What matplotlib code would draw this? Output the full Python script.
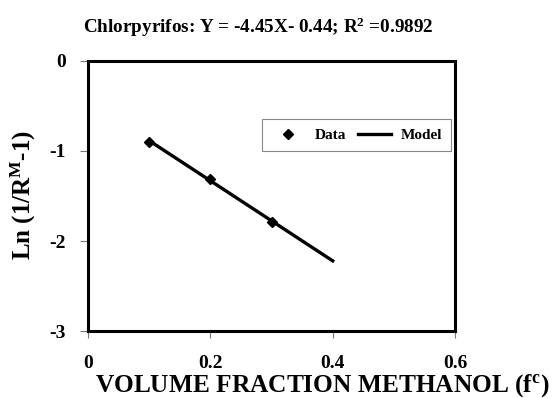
import matplotlib
matplotlib.use("Agg")
import matplotlib.pyplot as plt

# data
frac = [0.1, 0.2, 0.3]
ln_r = [-0.90, -1.31, -1.79]
model_x = [0.1, 0.4]
slope, intercept = -4.45, -0.44
xticks = [0, 0.2, 0.4, 0.6]
yticks = [0, -1, -2, -3]

plt.rcParams['font.family'] = 'Liberation Serif'
plt.rcParams['font.weight'] = 'bold'
plt.rcParams['mathtext.fontset'] = 'custom'
plt.rcParams['mathtext.rm'] = 'Liberation Serif:bold'
plt.rcParams['mathtext.it'] = 'Liberation Serif:bold'
plt.rcParams['mathtext.bf'] = 'Liberation Serif:bold'
plt.rcParams['mathtext.default'] = 'rm'


def draw_graph():
    fig = plt.figure(figsize=(5.53, 3.98), dpi=100)
    ax = fig.add_axes([0.159, 0.168, 0.664, 0.679])

    model_y = [slope * x + intercept for x in model_x]
    ax.plot(frac, ln_r, linestyle='none', marker='D', markersize=5.5,
            color='black', label='Data', zorder=3)
    ax.plot(model_x, model_y, color='black', linewidth=2.4, label='Model')

    ax.set_xlim(0, 0.6)
    ax.set_ylim(-3, 0)
    ax.set_xticks(xticks)
    ax.set_xticklabels(['0', '0.2', '0.4', '0.6'])
    ax.set_yticks(yticks)
    ax.set_yticklabels(['0', '-1', '-2', '-3'])
    ax.tick_params(axis='x', direction='out', length=5, width=0.8,
                   pad=12, labelsize=14, color='#777777')
    ax.tick_params(axis='y', direction='out', length=6, width=0.8,
                   pad=10, labelsize=14, color='#777777')
    for s in ax.spines.values():
        s.set_linewidth(2.2)

    leg = ax.legend(loc='upper left', bbox_to_anchor=(0.475, 0.785),
                    ncol=2, fontsize=11, frameon=True, fancybox=False,
                    edgecolor='#888888', framealpha=1, handlelength=2.2,
                    columnspacing=0.8, handletextpad=0.6,
                    borderpad=0.6, borderaxespad=0)
    leg.get_frame().set_linewidth(0.8)

    fig.text(0.466, 0.932, 'Chlorpyrifos: Y = -4.45X- 0.44; R$^2$ =0.9892',
             ha='center', va='center', fontsize=13.8)
    fig.text(0.172, 0.03, 'VOLUME FRACTION METHANOL (f$^c$)',
             ha='left', va='center', fontsize=18.3)
    fig.text(0.042, 0.51, 'Ln (1/R$^M$-1)', rotation=90,
             ha='center', va='center', fontsize=18)

    fig.savefig('out.png', dpi=100)


if __name__ == '__main__':
    draw_graph()
